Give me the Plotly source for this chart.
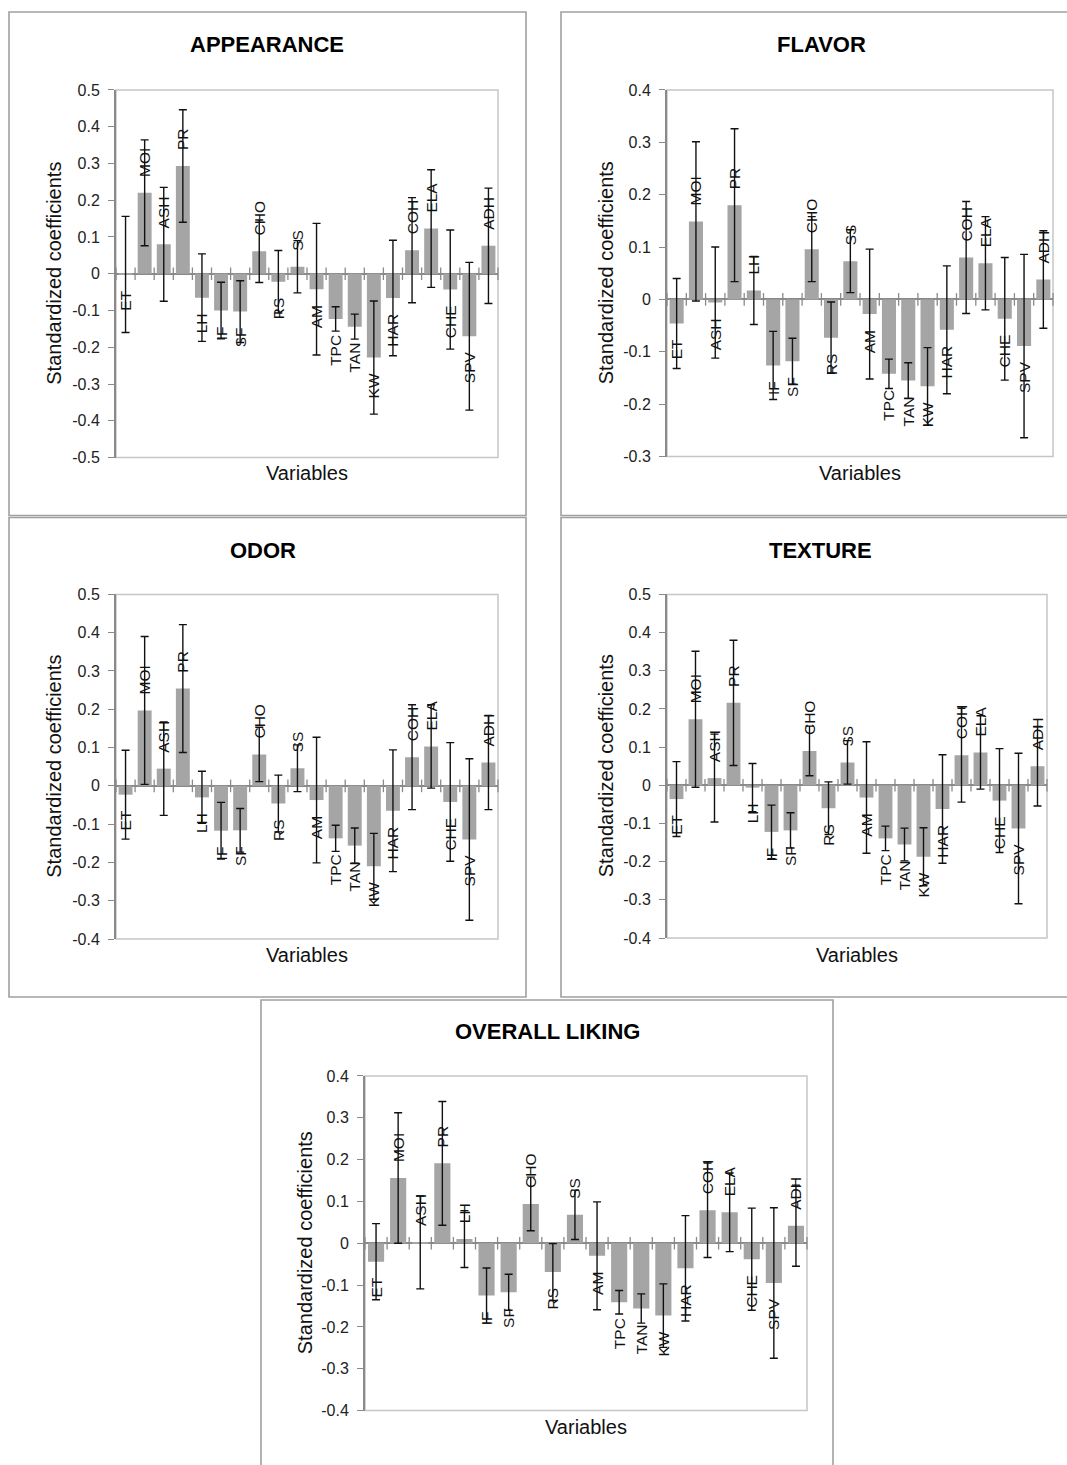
import plotly.graph_objects as go

W, H = 1067, 1465

# Predictor variables (same order in every panel)
categories = ["ET", "MOI", "ASH", "PR", "LH", "IF", "SF", "CHO", "RS", "SS",
              "AM", "TPC", "TAN", "KW", "HAR", "COH", "ELA", "CHE", "SPV", "ADH"]

# Standardized coefficients and their confidence half-widths per sensory attribute
appearance_coef = [-0.002, 0.220, 0.080, 0.293, -0.065, -0.100, -0.103, 0.061, -0.022, 0.019,
                   -0.042, -0.123, -0.144, -0.228, -0.066, 0.064, 0.123, -0.043, -0.170, 0.076]
appearance_err = [0.158, 0.144, 0.155, 0.153, 0.119, 0.077, 0.084, 0.085, 0.085, 0.071,
                  0.179, 0.033, 0.034, 0.154, 0.157, 0.143, 0.160, 0.162, 0.201, 0.157]

flavor_coef = [-0.046, 0.149, -0.006, 0.180, 0.017, -0.126, -0.118, 0.096, -0.073, 0.073,
               -0.028, -0.142, -0.155, -0.166, -0.058, 0.080, 0.069, -0.037, -0.089, 0.038]
flavor_err = [0.086, 0.152, 0.106, 0.146, 0.065, 0.065, 0.044, 0.062, 0.068, 0.060,
              0.124, 0.028, 0.034, 0.074, 0.122, 0.107, 0.089, 0.117, 0.175, 0.093]

odor_coef = [-0.023, 0.197, 0.045, 0.254, -0.030, -0.117, -0.116, 0.082, -0.046, 0.046,
             -0.037, -0.137, -0.156, -0.210, -0.065, 0.075, 0.103, -0.042, -0.140, 0.061]
odor_err = [0.116, 0.193, 0.122, 0.167, 0.068, 0.074, 0.057, 0.071, 0.074, 0.061,
            0.164, 0.034, 0.046, 0.086, 0.159, 0.137, 0.109, 0.155, 0.211, 0.123]

texture_coef = [-0.036, 0.173, 0.019, 0.216, -0.006, -0.122, -0.118, 0.090, -0.060, 0.060,
                -0.032, -0.139, -0.155, -0.187, -0.062, 0.079, 0.086, -0.040, -0.113, 0.050]
texture_err = [0.098, 0.178, 0.115, 0.164, 0.063, 0.070, 0.046, 0.065, 0.069, 0.057,
               0.146, 0.032, 0.043, 0.076, 0.142, 0.123, 0.096, 0.136, 0.197, 0.104]

liking_coef = [-0.044, 0.156, 0.002, 0.191, 0.010, -0.125, -0.117, 0.094, -0.069, 0.068,
               -0.030, -0.141, -0.156, -0.173, -0.060, 0.079, 0.074, -0.038, -0.095, 0.042]
liking_err = [0.091, 0.156, 0.111, 0.148, 0.068, 0.066, 0.043, 0.064, 0.068, 0.059,
              0.129, 0.028, 0.035, 0.076, 0.126, 0.113, 0.094, 0.122, 0.180, 0.097]

# Panel setup: title, data, y range (tenths), plot area and frame in pixels
panels = [
    dict(title="APPEARANCE", coef=appearance_coef, err=appearance_err, yr=(-5, 5),
         plot=(116, 90, 498, 458), frame=(9, 12, 526, 516), title_xy=(267, 45),
         ytitle_x=54, xtitle_y=473),
    dict(title="FLAVOR", coef=flavor_coef, err=flavor_err, yr=(-3, 4),
         plot=(667, 90, 1053, 457), frame=(561, 12, 1080, 516), title_xy=(821, 45),
         ytitle_x=606, xtitle_y=473),
    dict(title="ODOR", coef=odor_coef, err=odor_err, yr=(-4, 5),
         plot=(116, 595, 498, 940), frame=(9, 518, 526, 998), title_xy=(263, 551),
         ytitle_x=54, xtitle_y=956),
    dict(title="TEXTURE", coef=texture_coef, err=texture_err, yr=(-4, 5),
         plot=(667, 595, 1047, 939), frame=(561, 518, 1080, 998), title_xy=(820, 551),
         ytitle_x=606, xtitle_y=956),
    dict(title="OVERALL LIKING", coef=liking_coef, err=liking_err, yr=(-4, 4),
         plot=(365, 1077, 807, 1412), frame=(261, 1001, 833, 1490), title_xy=(547, 1033),
         ytitle_x=305, xtitle_y=1428),
]

FONT = "Liberation Sans, Arial, sans-serif"
BAR_COLOR = "#a5a5a5"
AXIS_COLOR = "#8a8a8a"
FRAME_COLOR = "#a0a0a0"
PLOT_BORDER = "#c6c6c6"
LABEL_PAD = "\u00a0" * 3  # gap between a bar end and its category label

# vertical placement on the page: top offset and scale of the drawing canvas
TOP_OFFSET = 8
V_SCALE = 0.9894


def px_x(v):
    return v / W


def px_y(v):
    return 1 - ((v - TOP_OFFSET) / V_SCALE) / H


def bar_labels(coefs):
    # rotated labels read upward: pad the end that faces the bar
    return [LABEL_PAD + c if v >= 0 else c + LABEL_PAD for c, v in zip(categories, coefs)]


fig = go.Figure()
shapes = []
annotations = []
layout_axes = {}

for i, p in enumerate(panels, start=1):
    xa = "x" if i == 1 else f"x{i}"
    ya = "y" if i == 1 else f"y{i}"
    xkey = "xaxis" if i == 1 else f"xaxis{i}"
    ykey = "yaxis" if i == 1 else f"yaxis{i}"
    left, top, right, bottom = p["plot"]
    n = len(categories)
    xs = list(range(n))

    fig.add_trace(go.Bar(
        x=xs, y=p["coef"], xaxis=xa, yaxis=ya,
        marker=dict(color=BAR_COLOR, line=dict(width=0)),
        width=0.73,
        text=bar_labels(p["coef"]), textposition="outside", textangle=-90,
        constraintext="none", cliponaxis=False,
        outsidetextfont=dict(family=FONT, size=15.5, color="#111111"),
        error_y=dict(type="data", array=p["err"], visible=True,
                     color="#111111", thickness=1.4, width=4),
        showlegend=False, hoverinfo="skip",
    ))

    # small tick marks on the zero line between categories
    fig.add_trace(go.Scatter(
        x=[k - 0.5 for k in range(n + 1)], y=[0] * (n + 1), xaxis=xa, yaxis=ya,
        mode="markers", cliponaxis=False,
        marker=dict(symbol="line-ns", size=9, line=dict(width=1.3, color=AXIS_COLOR)),
        showlegend=False, hoverinfo="skip",
    ))

    lo, hi = p["yr"]
    tickvals = [k / 10 for k in range(lo, hi + 1)]
    ticktext = [f"{v:g}" for v in tickvals]

    layout_axes[xkey] = dict(
        domain=[px_x(left), px_x(right)], anchor=ya, range=[-0.5, n - 0.5],
        showticklabels=False, showgrid=False, zeroline=False, showline=False,
        ticks="", fixedrange=True,
    )
    layout_axes[ykey] = dict(
        domain=[px_y(bottom), px_y(top)], anchor=xa, range=[lo / 10, hi / 10],
        tickvals=tickvals, ticktext=ticktext,
        showgrid=False, zeroline=True, zerolinecolor=AXIS_COLOR, zerolinewidth=2.2,
        showline=True, linecolor=AXIS_COLOR, linewidth=2,
        ticks="outside", ticklen=6, tickwidth=1.3, tickcolor=AXIS_COLOR,
        ticklabelstandoff=5,
        tickfont=dict(family=FONT, size=16, color="#222222"),
        fixedrange=True,
    )

    # light plot-area border
    shapes.append(dict(type="rect", xref=f"{xa} domain", yref=f"{ya} domain",
                       x0=0, x1=1, y0=0, y1=1, layer="below",
                       line=dict(color=PLOT_BORDER, width=1.5)))
    # outer frame of the panel
    fl, ft, fr, fb = p["frame"]
    shapes.append(dict(type="rect", xref="paper", yref="paper",
                       x0=px_x(fl), x1=px_x(fr), y0=px_y(fb), y1=px_y(ft),
                       line=dict(color=FRAME_COLOR, width=1.6)))

    tx, ty = p["title_xy"]
    annotations.append(dict(text=f"<b>{p['title']}</b>", xref="paper", yref="paper",
                            x=px_x(tx), y=px_y(ty), showarrow=False,
                            xanchor="center", yanchor="middle",
                            font=dict(family=FONT, size=22, color="#000000")))
    annotations.append(dict(text="Standardized coefficients", xref="paper", yref="paper",
                            x=px_x(p["ytitle_x"]), y=px_y((top + bottom) / 2),
                            showarrow=False, textangle=-90,
                            xanchor="center", yanchor="middle",
                            font=dict(family=FONT, size=20, color="#111111")))
    annotations.append(dict(text="Variables", xref="paper", yref="paper",
                            x=px_x((left + right) / 2), y=px_y(p["xtitle_y"]),
                            showarrow=False, xanchor="center", yanchor="middle",
                            font=dict(family=FONT, size=20, color="#111111")))

fig.update_layout(
    width=W, height=H,
    margin=dict(l=0, r=0, t=0, b=0),
    paper_bgcolor="white", plot_bgcolor="white",
    bargap=0.27,
    shapes=shapes, annotations=annotations,
    **layout_axes,
)

fig.write_html("out.html", config={"displayModeBar": False})
